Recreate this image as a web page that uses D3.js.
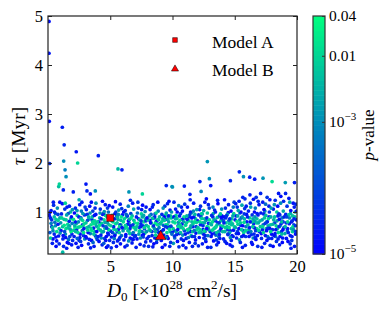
<!DOCTYPE html>
<html><head><meta charset="utf-8">
<script src="https://cdn.jsdelivr.net/npm/d3@7"></script>
<style>
html,body{margin:0;padding:0;background:#fff;}
svg text{font-family:"Liberation Serif","Times New Roman",serif;fill:#000;}
</style></head>
<body><svg id="c" width="390" height="312"></svg>
<script>
// ---- data ----
const xTicks = [5, 10, 15, 20];
const yTicks = [1, 2, 3, 4, 5];
const cbTicks = [1e-5, 1e-3, 0.01, 0.04];
const cbTickLabels = [["10", "\u22125"], ["10", "\u22123"], ["0.01", ""], ["0.04", ""]];
const modelNames = ["Model A", "Model B"];
const modelX = [5.0, 9.05];
const modelY = [0.88, 0.50];
// scatter samples: [D0, tau (Myr), log10 p-value]
const outlierPoints = [
[0.08,4.89,-4.8],[0.08,4.24,-4.7],[0.1,2.85,-4.8],[1.15,2.73,-4.6],[1.3,2.37,-4.5],[2.27,2.23,-4.7],[4.04,2.15,-4.6],[0.13,1.99,-4.5],[1.26,2.04,-3.0],[2.38,2.0,-2.0],[1.37,1.86,-3.2],[1.45,1.72,-3.0],[0.91,1.57,-2.0],[0.86,1.52,-2.3],[1.23,1.45,-4.5],[2.03,1.41,-4.6],[3.05,1.57,-4.7],[3.13,1.43,-4.4],[3.4,1.37,-4.8],[3.8,1.43,-3.0],[2.5,1.25,-2.6],[0.43,1.2,-4.6],[1.39,1.18,-2.0],[5.62,1.88,-2.4],[5.94,1.86,-4.6],[9.5,1.54,-4.5],[9.96,1.52,-3.0],[6.5,1.41,-2.9],[7.58,1.37,-2.0],[12.8,2.03,-2.9],[12.96,1.68,-3.0],[12.2,1.62,-4.6],[13.07,1.54,-4.7],[14.65,1.64,-4.5],[10.95,1.53,-4.6],[10.0,1.51,-2.8],[12.3,1.42,-3.1],[11.4,1.36,-4.6],[15.37,1.82,-4.5],[15.7,1.72,-3.0],[16.2,1.71,-4.6],[16.6,1.67,-4.7],[17.27,1.69,-2.9],[18.0,1.62,-1.9],[19.06,1.6,-2.8],[19.8,1.6,-4.6]
];
const bandLeft = [
[0.1,0.93,-4.8],[0.2,0.88,-4.6],[0.15,0.99,-4.9],[0.3,0.84,-4.3],[0.25,1.03,-4.7],[0.4,0.62,-3.1],[0.5,0.55,-4.5],[0.2,0.47,-2.2],[0.6,0.72,-2.9],[0.7,0.41,-4.8],[0.35,0.36,-4.6],[0.8,0.95,-4.2],[0.9,0.66,-2.0],[0.55,0.79,-3.4],[0.65,0.3,-4.9],[0.45,1.14,-4.4],[0.75,1.08,-3.0],[0.85,0.51,-4.7],[0.95,0.88,-2.6],[0.3,0.7,-4.1],[0.6,0.97,-3.6],[0.15,0.58,-3.8],[0.7,0.6,-1.9],[0.9,0.35,-4.4],[0.5,0.9,-2.4],[0.8,0.75,-4.6],[0.4,0.45,-4.9],[0.95,1.2,-4.8],[0.25,0.77,-3.2],[0.65,0.85,-2.1],
[1.05,0.62,-4.7],[1.1,0.88,-2.0],[1.2,0.45,-4.5],[1.3,0.73,-1.8],[1.35,1.06,-4.3],[1.4,0.55,-3.0],[1.5,0.94,-2.7],[1.55,0.38,-4.9],[1.6,0.68,-2.2],[1.7,0.81,-4.6],[1.75,0.5,-4.1],[1.8,1.0,-2.4],[1.85,0.6,-1.7],[1.9,0.33,-4.7],[1.95,0.77,-3.3],[1.15,1.17,-4.8],[1.25,0.3,-4.4],[1.45,0.84,-2.1],[1.65,0.44,-3.5],[1.72,1.12,-4.5],[1.33,0.6,-4.0],[1.58,0.75,-1.9],[1.88,0.9,-4.8],[1.02,0.78,-2.9],[1.42,0.48,-4.8],[1.62,0.97,-3.9],[1.78,0.65,-2.6],[1.92,0.55,-4.6],[1.18,0.7,-2.3],[1.5,0.26,-4.6],[1.18,0.18,-2.4],[1.96,1.05,-2.9],
[2.05,0.85,-1.8],[2.1,0.5,-4.6],[2.15,0.72,-2.5],[2.2,1.08,-4.4],[2.25,0.36,-4.8],[2.3,0.64,-4.2],[2.35,0.93,-2.2],[2.4,0.58,-1.9],[2.45,0.8,-3.1],[2.5,0.42,-4.5],[2.55,1.15,-4.7],[2.6,0.7,-1.7],[2.65,0.88,-4.0],[2.7,0.32,-4.9],[2.75,0.62,-3.4],[2.8,0.97,-2.8],[2.85,0.52,-4.3],[2.9,0.76,-2.0],[2.95,0.45,-3.0],[2.12,0.98,-4.9],[2.28,0.77,-2.7],[2.42,0.28,-4.6],[2.58,0.55,-4.8],[2.68,1.02,-3.3],[2.78,0.83,-1.9],[2.88,0.66,-4.6],[2.98,1.1,-4.2],[2.22,0.6,-2.4],[2.48,0.9,-4.5],[2.62,0.4,-4.2],[2.82,0.72,-2.3],[2.35,0.46,-3.7],[2.72,1.2,-4.6],[2.18,0.69,-1.6],
[3.05,0.78,-2.2],[3.1,0.47,-4.7],[3.15,0.95,-4.4],[3.2,0.63,-2.0],[3.25,0.35,-4.5],[3.3,0.86,-2.6],[3.35,1.12,-4.8],[3.4,0.56,-3.3],[3.45,0.74,-1.8],[3.5,0.42,-4.9],[3.55,0.9,-2.3],[3.6,1.02,-4.1],[3.65,0.67,-4.6],[3.7,0.3,-4.7],[3.75,0.82,-2.0],[3.8,0.52,-4.4],[3.85,1.18,-3.0],[3.9,0.71,-2.8],[3.95,0.44,-4.2],[3.08,1.05,-4.6],[3.22,0.58,-4.8],[3.38,0.98,-2.9],[3.52,0.62,-1.7],[3.62,0.38,-3.6],[3.72,0.93,-4.7],[3.82,0.76,-2.4],[3.92,0.6,-4.9],[3.18,0.83,-3.9],[3.42,0.27,-4.6],[3.58,0.8,-2.1],[3.78,1.08,-4.5],[3.88,0.48,-3.2],[3.28,0.7,-2.5],[3.48,1.2,-4.9],[3.68,0.55,-2.2],
[4.05,0.66,-1.9],[4.1,0.4,-4.8],[4.15,0.88,-2.4],[4.2,1.06,-4.3],[4.25,0.53,-4.6],[4.3,0.77,-2.1],[4.35,0.33,-4.5],[4.4,0.95,-4.8],[4.45,0.6,-2.7],[4.5,0.84,-1.8],[4.55,0.46,-4.2],[4.6,1.15,-4.6],[4.65,0.7,-3.2],[4.7,0.28,-4.9],[4.75,0.9,-2.2],[4.8,0.57,-4.7],[4.85,1.0,-3.4],[4.9,0.74,-2.0],[4.95,0.42,-4.4],[4.08,0.8,-4.5],[4.22,0.63,-2.3],[4.38,1.22,-4.9],[4.48,0.36,-3.8],[4.58,0.79,-2.6],[4.68,0.5,-4.9],[4.78,1.08,-4.1],[4.88,0.64,-1.7],[4.18,0.98,-3.0],[4.42,0.72,-4.3],[4.62,0.93,-2.0],[4.82,0.31,-4.6],[4.28,0.47,-3.1],[4.72,0.67,-4.0],[4.92,1.13,-4.8],[4.52,1.01,-2.9]
];
const bandMid = [
[5.05,0.72,-2.1],[5.1,0.49,-4.6],[5.15,0.93,-2.5],[5.2,1.1,-4.7],[5.25,0.38,-4.4],[5.3,0.65,-1.8],[5.35,0.86,-4.5],[5.4,0.55,-2.9],[5.45,1.0,-4.2],[5.5,0.3,-4.8],[5.55,0.78,-2.2],[5.6,0.6,-4.9],[5.65,0.95,-3.1],[5.7,0.44,-4.3],[5.75,0.7,-1.9],[5.8,1.16,-4.6],[5.85,0.83,-2.4],[5.9,0.52,-3.5],[5.95,0.68,-4.7],[5.08,0.27,-4.5],[5.22,0.8,-2.0],[5.38,0.97,-4.8],[5.48,0.63,-2.3],[5.58,0.41,-4.6],[5.68,1.04,-2.8],[5.78,0.74,-4.4],[5.88,0.9,-1.7],[5.18,0.58,-4.1],[5.42,1.21,-4.9],[5.62,0.85,-2.6],[5.82,0.35,-4.7],[5.32,0.46,-3.3],[5.72,0.58,-2.1],[5.92,1.07,-4.3],[5.52,0.92,-4.0],
[6.05,0.8,-1.9],[6.1,0.43,-4.7],[6.15,0.67,-2.6],[6.2,1.03,-4.5],[6.25,0.54,-4.9],[6.3,0.9,-2.2],[6.35,0.32,-4.3],[6.4,0.75,-4.6],[6.45,1.12,-3.2],[6.5,0.61,-1.8],[6.55,0.85,-2.9],[6.6,0.47,-4.8],[6.65,0.97,-4.1],[6.7,0.7,-2.0],[6.75,0.37,-4.6],[6.8,1.18,-4.7],[6.85,0.58,-3.4],[6.9,0.83,-2.3],[6.95,0.5,-4.4],[6.08,1.0,-4.8],[6.22,0.73,-2.1],[6.38,0.92,-4.2],[6.48,0.41,-3.0],[6.58,0.66,-4.5],[6.68,0.88,-1.7],[6.78,0.55,-4.9],[6.88,1.06,-2.7],[6.18,0.29,-4.8],[6.42,0.62,-2.4],[6.62,1.24,-4.5],[6.82,0.74,-4.3],[6.28,0.95,-3.6],[6.72,0.45,-4.0],[6.92,0.68,-2.0],[6.52,0.78,-2.5],
[7.05,0.64,-2.2],[7.1,0.9,-4.6],[7.15,0.45,-4.8],[7.2,0.77,-1.9],[7.25,1.08,-4.4],[7.3,0.55,-2.8],[7.35,0.84,-2.3],[7.4,0.34,-4.7],[7.45,0.7,-4.5],[7.5,0.96,-2.0],[7.55,0.6,-3.3],[7.6,1.14,-4.9],[7.65,0.49,-4.2],[7.7,0.8,-1.8],[7.75,0.66,-4.6],[7.8,1.01,-3.0],[7.85,0.39,-4.5],[7.9,0.73,-2.5],[7.95,0.88,-4.8],[7.08,0.28,-4.6],[7.22,1.2,-4.3],[7.38,0.62,-1.7],[7.48,0.82,-4.1],[7.58,0.52,-4.9],[7.68,0.93,-2.6],[7.78,0.57,-2.1],[7.88,1.1,-4.7],[7.18,0.98,-3.5],[7.42,0.47,-3.1],[7.62,0.72,-4.4],[7.82,0.86,-2.2],[7.32,0.69,-4.7],[7.72,0.31,-4.4],[7.92,0.6,-2.9],[7.52,1.05,-4.6],
[8.05,0.7,-2.0],[8.1,0.5,-4.5],[8.15,0.92,-2.7],[8.2,1.05,-4.8],[8.25,0.41,-4.6],[8.3,0.78,-1.8],[8.35,0.6,-4.3],[8.4,0.87,-2.3],[8.45,1.15,-4.5],[8.5,0.35,-4.9],[8.55,0.66,-2.9],[8.6,0.96,-4.2],[8.65,0.53,-2.1],[8.7,0.81,-4.7],[8.75,0.44,-3.4],[8.8,0.74,-1.9],[8.85,1.02,-3.1],[8.9,0.58,-4.8],[8.95,0.9,-2.4],[8.08,0.3,-4.4],[8.22,0.62,-2.6],[8.38,1.1,-4.6],[8.48,0.72,-4.4],[8.58,0.47,-4.7],[8.68,0.98,-2.0],[8.78,0.64,-4.1],[8.88,0.84,-2.2],[8.18,0.83,-4.9],[8.42,0.29,-4.6],[8.62,0.77,-1.7],[8.82,1.2,-4.8],[8.28,0.95,-3.6],[8.72,0.38,-4.5],[8.92,0.68,-3.2],[8.52,0.88,-4.4],
[9.05,0.76,-2.3],[9.1,0.42,-4.7],[9.15,0.95,-4.4],[9.2,0.62,-1.9],[9.25,1.08,-3.0],[9.3,0.53,-4.6],[9.35,0.83,-2.1],[9.4,0.33,-4.8],[9.45,0.7,-4.2],[9.5,0.98,-2.6],[9.55,0.58,-2.0],[9.6,1.17,-4.5],[9.65,0.46,-4.9],[9.7,0.8,-2.8],[9.75,0.65,-1.8],[9.8,1.04,-4.7],[9.85,0.38,-4.3],[9.9,0.88,-2.2],[9.95,0.55,-3.5],[9.08,0.6,-4.8],[9.22,0.86,-2.5],[9.38,1.12,-4.3],[9.48,0.48,-3.3],[9.58,0.74,-2.0],[9.68,0.92,-4.6],[9.78,0.3,-4.5],[9.88,0.71,-4.0],[9.18,0.28,-4.9],[9.42,0.93,-1.7],[9.62,0.68,-4.4],[9.82,0.6,-2.4],[9.28,0.73,-3.8],[9.72,1.22,-4.8],[9.92,1.0,-2.9],[9.52,0.85,-4.1]
];
const bandRight = [
[10.05,0.66,-2.1],[10.07,0.36,-2.8],[10.1,0.9,-4.6],[10.15,0.51,-4.4],[10.2,0.78,-1.8],[10.25,1.06,-4.7],[10.3,0.6,-2.6],[10.35,0.87,-2.2],[10.4,0.4,-4.8],[10.45,0.72,-4.3],[10.5,1.13,-3.2],[10.55,0.56,-4.9],[10.6,0.83,-1.9],[10.65,0.97,-4.1],[10.7,0.45,-4.5],[10.75,0.69,-2.4],[10.8,1.02,-4.8],[10.85,0.32,-4.6],[10.9,0.8,-2.7],[10.95,0.62,-4.2],[10.12,1.2,-4.5],[10.28,0.93,-2.0],[10.42,0.64,-4.7],[10.52,0.29,-4.4],[10.62,0.74,-2.2],[10.72,1.1,-4.6],[10.82,0.53,-3.0],[10.92,0.9,-1.8],[10.18,0.47,-3.6],[10.38,1.0,-4.9],[10.58,0.68,-1.7],[10.78,0.85,-4.4],[10.88,0.42,-4.8],[10.48,0.79,-2.9],[10.98,1.16,-4.3],
[11.05,0.73,-2.0],[11.1,0.46,-4.6],[11.15,0.92,-2.5],[11.2,1.1,-4.8],[11.25,0.58,-4.3],[11.3,0.82,-1.9],[11.35,0.38,-4.7],[11.4,0.67,-2.8],[11.45,1.0,-4.4],[11.5,0.52,-2.2],[11.55,0.88,-4.9],[11.6,0.3,-4.5],[11.65,0.76,-2.1],[11.7,1.18,-4.6],[11.75,0.62,-3.3],[11.8,0.95,-2.4],[11.85,0.43,-4.8],[11.9,0.7,-4.1],[11.95,1.05,-2.9],[11.08,0.27,-4.7],[11.22,0.64,-1.7],[11.38,0.94,-4.2],[11.48,0.72,-2.6],[11.58,0.5,-4.4],[11.68,1.02,-3.1],[11.78,0.8,-1.8],[11.88,0.57,-4.9],[11.18,0.85,-4.5],[11.42,1.25,-4.6],[11.62,0.6,-2.3],[11.82,0.36,-4.3],[11.28,0.48,-3.5],[11.72,0.9,-4.7],[11.92,0.79,-2.0],[11.52,0.98,-2.7],
[12.05,0.68,-2.3],[12.1,0.94,-4.5],[12.15,0.48,-4.8],[12.2,0.8,-1.9],[12.25,1.12,-4.3],[12.3,0.58,-2.7],[12.35,0.87,-2.1],[12.4,0.35,-4.6],[12.45,0.72,-4.4],[12.5,1.03,-2.5],[12.55,0.62,-1.8],[12.6,1.2,-4.7],[12.65,0.44,-4.2],[12.7,0.83,-2.9],[12.75,0.66,-4.8],[12.8,0.98,-2.2],[12.85,0.52,-3.4],[12.9,0.77,-4.6],[12.95,1.08,-4.1],[12.08,0.31,-4.5],[12.22,0.64,-2.0],[12.38,0.96,-3.1],[12.48,0.55,-4.7],[12.58,0.86,-2.4],[12.68,0.4,-4.9],[12.78,0.7,-1.7],[12.88,1.15,-4.5],[12.18,1.05,-4.8],[12.42,0.78,-2.2],[12.62,0.6,-3.0],[12.82,0.28,-4.6],[12.28,0.9,-4.3],[12.72,1.27,-4.9],[12.92,0.64,-2.6],[12.52,0.47,-4.5],
[13.05,0.76,-2.2],[13.1,0.5,-4.7],[13.15,0.93,-4.4],[13.2,0.63,-2.0],[13.25,1.1,-3.2],[13.3,0.41,-4.8],[13.35,0.85,-2.6],[13.4,0.57,-4.3],[13.45,1.0,-4.6],[13.5,0.7,-1.9],[13.55,0.33,-4.5],[13.6,0.89,-2.3],[13.65,1.17,-4.9],[13.7,0.6,-2.8],[13.75,0.78,-4.2],[13.8,0.46,-4.6],[13.85,0.96,-2.1],[13.9,0.67,-4.7],[13.95,1.06,-3.0],[13.08,0.28,-4.4],[13.22,0.8,-1.8],[13.38,1.04,-4.5],[13.48,0.53,-3.6],[13.58,0.74,-2.4],[13.68,0.38,-4.8],[13.78,0.92,-4.1],[13.88,0.82,-2.0],[13.18,0.55,-4.9],[13.42,0.68,-2.7],[13.62,1.24,-4.6],[13.82,0.62,-4.4],[13.28,0.97,-2.5],[13.72,0.5,-3.3],[13.92,0.88,-4.8],[13.52,0.43,-4.2],
[14.05,0.71,-2.1],[14.1,0.45,-4.6],[14.15,0.9,-4.8],[14.2,0.6,-2.5],[14.25,1.08,-4.4],[14.3,0.78,-2.0],[14.35,0.36,-4.7],[14.4,0.95,-2.9],[14.45,0.55,-4.3],[14.5,1.15,-4.6],[14.55,0.68,-1.9],[14.6,0.86,-4.5],[14.65,0.48,-3.1],[14.7,1.02,-4.9],[14.75,0.74,-2.3],[14.8,0.3,-4.4],[14.85,0.92,-2.7],[14.9,0.63,-4.8],[14.95,1.2,-4.2],[14.08,0.83,-3.8],[14.22,0.4,-4.5],[14.38,0.7,-2.2],[14.48,0.99,-4.7],[14.58,0.58,-2.6],[14.68,0.8,-1.8],[14.78,0.52,-4.6],[14.88,1.1,-3.3],[14.18,1.25,-4.8],[14.42,0.64,-4.1],[14.62,0.33,-4.9],[14.82,0.76,-2.4],[14.28,0.88,-4.4],[14.72,0.42,-4.6],[14.92,0.97,-2.0],[14.52,0.82,-3.4]
];
const bandFar = [
[15.05,0.68,-2.6],[15.1,0.92,-4.7],[15.15,0.47,-4.5],[15.2,1.1,-4.3],[15.25,0.75,-2.1],[15.3,0.56,-4.8],[15.35,1.22,-4.6],[15.4,0.84,-3.0],[15.45,0.38,-4.4],[15.5,1.0,-4.9],[15.55,0.64,-2.2],[15.6,0.9,-2.8],[15.65,1.3,-4.5],[15.7,0.52,-4.7],[15.75,0.79,-1.9],[15.8,1.07,-4.2],[15.85,0.32,-4.6],[15.9,0.7,-3.3],[15.95,0.95,-4.8],[15.08,1.17,-4.5],[15.22,0.6,-4.1],[15.38,0.43,-2.9],[15.48,0.73,-4.6],[15.58,1.14,-2.6],[15.68,0.62,-4.9],[15.78,0.86,-2.4],[15.88,0.5,-4.3],[15.18,0.81,-1.8],[15.42,0.98,-3.5],[15.62,0.28,-4.7],[15.82,1.27,-4.4],[15.28,1.03,-2.7],[15.72,0.58,-2.0],[15.92,1.12,-4.6],[15.52,0.88,-4.3],
[16.05,0.74,-2.4],[16.1,1.02,-4.6],[16.15,0.5,-4.8],[16.2,0.88,-2.0],[16.25,1.18,-4.4],[16.3,0.6,-3.2],[16.35,0.38,-4.7],[16.4,0.94,-4.3],[16.45,0.7,-2.2],[16.5,1.26,-4.8],[16.55,0.55,-4.5],[16.6,0.82,-2.7],[16.65,1.08,-3.3],[16.7,0.44,-4.9],[16.75,0.66,-1.9],[16.8,0.97,-4.6],[16.85,0.3,-4.4],[16.9,0.78,-2.5],[16.95,1.15,-4.7],[16.08,0.58,-4.3],[16.22,1.35,-4.6],[16.38,0.8,-2.1],[16.48,0.47,-3.0],[16.58,1.0,-4.9],[16.68,0.62,-4.2],[16.78,0.86,-2.3],[16.88,1.22,-4.5],[16.18,0.68,-4.6],[16.42,0.34,-4.8],[16.62,0.9,-2.9],[16.82,0.52,-4.7],[16.28,1.1,-2.6],[16.72,1.3,-4.3],[16.92,0.63,-2.0],[16.52,0.76,-4.5],
[17.05,0.7,-2.3],[17.1,0.98,-4.7],[17.15,0.46,-4.4],[17.2,0.84,-2.8],[17.25,1.2,-4.6],[17.3,0.58,-2.1],[17.35,1.05,-4.9],[17.4,0.36,-4.5],[17.45,0.77,-4.2],[17.5,0.93,-2.4],[17.55,0.62,-4.8],[17.6,1.3,-4.3],[17.65,0.5,-3.1],[17.7,0.86,-1.9],[17.75,1.12,-4.6],[17.8,0.67,-4.7],[17.85,0.32,-4.4],[17.9,0.9,-2.6],[17.95,0.55,-4.9],[17.08,1.38,-4.5],[17.22,0.64,-4.6],[17.38,0.88,-2.2],[17.48,1.16,-3.4],[17.58,0.42,-4.8],[17.68,0.72,-2.5],[17.78,1.0,-4.4],[17.88,0.6,-2.0],[17.18,0.28,-4.7],[17.42,1.02,-2.9],[17.62,0.8,-4.5],[17.82,1.25,-4.8],[17.28,0.74,-3.7],[17.72,0.46,-4.3],[17.92,1.08,-2.7],[17.52,0.66,-2.2],
[18.05,0.75,-2.5],[18.1,1.06,-4.6],[18.15,0.52,-4.8],[18.2,0.9,-2.2],[18.25,1.24,-4.4],[18.3,0.64,-4.7],[18.35,0.4,-4.3],[18.4,0.82,-2.8],[18.45,1.12,-4.9],[18.5,0.58,-2.0],[18.55,0.96,-4.5],[18.6,0.33,-4.6],[18.65,0.72,-2.4],[18.7,1.32,-4.8],[18.75,0.6,-4.2],[18.8,0.88,-3.2],[18.85,0.47,-4.7],[18.9,1.02,-2.6],[18.95,0.68,-4.4],[18.08,0.3,-4.9],[18.22,0.78,-4.1],[18.38,1.0,-2.1],[18.48,0.45,-4.6],[18.58,0.85,-4.8],[18.68,1.18,-3.0],[18.78,0.55,-2.3],[18.88,0.8,-4.5],[18.18,1.15,-2.9],[18.42,0.66,-1.9],[18.62,0.94,-4.3],[18.82,0.38,-4.9],[18.28,0.5,-3.5],[18.72,0.76,-4.6],[18.92,1.22,-4.4],[18.52,1.38,-4.7],
[19.05,0.7,-2.4],[19.1,0.95,-4.6],[19.15,0.46,-4.8],[19.2,1.12,-4.3],[19.25,0.8,-2.0],[19.3,0.58,-4.5],[19.35,1.28,-4.7],[19.4,0.88,-3.0],[19.45,0.35,-4.4],[19.5,1.03,-4.9],[19.55,0.66,-2.6],[19.6,0.5,-4.6],[19.65,0.92,-2.2],[19.7,1.18,-4.8],[19.75,0.74,-4.2],[19.8,0.3,-4.7],[19.85,1.0,-2.8],[19.9,0.6,-4.4],[19.95,0.84,-4.9],[19.08,1.38,-4.5],[19.22,0.62,-3.3],[19.38,0.76,-4.6],[19.48,0.97,-2.5],[19.58,0.42,-4.3],[19.68,0.7,-1.9],[19.78,1.1,-4.6],[19.88,0.55,-4.8],[19.18,0.9,-4.1],[19.42,1.2,-2.7],[19.62,0.82,-4.4],[19.82,0.9,-2.3],[19.28,0.4,-4.9],[19.72,0.64,-2.9],[19.92,1.16,-4.5],[19.52,0.26,-4.6]
];
const bandCore = [
[0.37,0.68,-2.4],[0.52,1.0,-4.6],[0.63,0.49,-4.8],[0.81,0.83,-2.0],[0.97,0.57,-3.1],[1.08,0.96,-4.5],[1.22,0.52,-4.9],[1.29,0.85,-2.2],[1.44,0.66,-1.8],[1.53,1.1,-4.7],[1.67,0.36,-4.6],[1.74,0.72,-2.7],[1.83,0.86,-1.9],[1.98,0.42,-4.4],[2.07,0.63,-2.1],[2.19,0.8,-4.7],[2.33,1.03,-2.9],[2.44,0.69,-2.0],[2.56,0.48,-4.6],[2.63,0.86,-2.3],[2.77,0.74,-4.8],[2.86,0.58,-1.8],[2.93,0.94,-4.3],[3.03,0.5,-4.9],[3.12,0.68,-2.1],[3.26,0.9,-2.5],[3.33,0.44,-4.6],[3.47,0.66,-2.0],[3.54,0.84,-4.4],[3.67,0.76,-1.9],[3.76,0.6,-2.6],[3.84,0.95,-4.8],[3.97,0.8,-2.2],[4.03,0.5,-4.5],[4.13,0.73,-1.8],[4.27,0.86,-4.6],[4.33,0.59,-2.3],[4.46,0.97,-4.4],[4.57,0.67,-2.0],[4.64,0.42,-4.8],[4.77,0.78,-2.7],[4.86,0.54,-4.3],[4.97,0.86,-1.9],
[5.03,0.61,-4.7],[5.13,0.82,-2.2],[5.27,0.7,-4.5],[5.36,0.52,-4.8],[5.44,0.76,-1.8],[5.57,0.9,-2.4],[5.66,0.65,-4.6],[5.77,0.48,-4.4],[5.86,0.74,-2.1],[5.97,0.94,-4.7],[6.03,0.62,-2.8],[6.13,0.86,-2.0],[6.24,0.5,-4.5],[6.33,0.68,-1.9],[6.46,0.82,-4.9],[6.57,0.56,-2.3],[6.63,0.72,-4.6],[6.76,0.92,-2.5],[6.84,0.44,-4.8],[6.97,0.78,-1.8],[7.03,0.52,-4.4],[7.13,0.7,-2.2],[7.27,0.86,-4.7],[7.34,0.6,-2.0],[7.46,0.76,-4.5],[7.57,0.9,-2.6],[7.66,0.54,-4.9],[7.74,0.68,-2.1],[7.87,0.82,-4.3],[7.96,0.46,-4.6],[8.03,0.84,-2.3],[8.13,0.64,-1.9],[8.24,0.78,-4.8],[8.36,0.52,-4.5],[8.44,0.7,-2.0],[8.57,0.9,-4.6],[8.64,0.6,-2.5],[8.77,0.84,-1.8],[8.86,0.48,-4.7],[8.97,0.76,-4.4],[9.03,0.56,-2.2],[9.13,0.8,-2.0],[9.27,0.64,-4.6],[9.33,0.9,-4.9],[9.46,0.74,-1.9],[9.57,0.5,-4.5],[9.64,0.86,-2.4],[9.77,0.7,-4.7],[9.84,0.92,-2.1],[9.97,0.58,-4.4],
[10.03,0.8,-2.0],[10.14,0.62,-4.8],[10.23,0.86,-2.6],[10.33,0.54,-4.5],[10.46,0.7,-1.8],[10.57,0.92,-4.6],[10.64,0.58,-2.3],[10.77,0.76,-4.9],[10.86,0.66,-2.0],[10.96,0.88,-4.4],[11.03,0.55,-4.7],[11.13,0.78,-2.1],[11.24,0.64,-1.9],[11.33,0.9,-4.5],[11.46,0.6,-4.8],[11.56,0.8,-2.4],[11.64,0.7,-4.6],[11.77,0.5,-4.4],[11.86,0.86,-2.2],[11.97,0.64,-1.8],[12.03,0.82,-4.7],[12.13,0.58,-2.3],[12.24,0.74,-4.5],[12.33,0.96,-2.0],[12.46,0.64,-4.9],[12.57,0.78,-2.6],[12.64,0.52,-4.6],[12.76,0.88,-4.4],[12.87,0.68,-2.1],[12.97,0.84,-1.9],[13.03,0.6,-4.8],[13.13,0.74,-2.5],[13.24,0.9,-4.6],[13.33,0.66,-2.0],[13.46,0.82,-4.3],[13.56,0.58,-2.2],[13.64,0.78,-4.7],[13.76,0.54,-4.5],[13.87,0.72,-1.8],[13.97,0.92,-4.9],[14.03,0.6,-2.4],[14.13,0.78,-4.6],[14.24,0.68,-2.0],[14.33,0.92,-4.4],[14.46,0.54,-4.8],[14.57,0.76,-2.3],[14.64,0.62,-4.5],[14.76,0.86,-2.1],[14.87,0.5,-4.7],[14.97,0.7,-1.9],
[15.03,0.84,-4.6],[15.13,0.56,-4.4],[15.24,0.92,-2.5],[15.33,0.66,-4.8],[15.46,0.78,-2.2],[15.56,0.5,-4.5],[15.64,0.72,-4.9],[15.76,0.96,-4.3],[15.87,0.62,-2.0],[15.97,0.8,-4.6],[16.03,0.9,-4.5],[16.13,0.64,-2.3],[16.24,0.8,-4.7],[16.33,0.54,-4.4],[16.46,0.86,-2.6],[16.56,0.68,-4.8],[16.64,0.48,-4.5],[16.76,0.78,-2.1],[16.87,0.94,-4.6],[16.97,0.6,-4.3],[17.03,0.82,-2.4],[17.13,0.56,-4.9],[17.24,0.7,-2.0],[17.33,0.96,-4.5],[17.46,0.52,-4.7],[17.56,0.8,-2.6],[17.64,0.66,-4.4],[17.76,0.9,-4.8],[17.87,0.74,-2.2],[17.97,0.46,-4.6],[18.03,0.64,-4.3],[18.13,0.84,-2.5],[18.24,0.56,-4.8],[18.33,0.72,-2.1],[18.46,0.92,-4.6],[18.56,0.7,-4.4],[18.64,0.5,-4.7],[18.76,0.8,-2.4],[18.87,0.64,-4.9],[18.97,0.9,-4.5],[19.03,0.56,-2.6],[19.13,0.78,-4.4],[19.24,0.66,-4.7],[19.33,0.94,-2.2],[19.46,0.52,-4.6],[19.56,0.8,-4.8],[19.64,0.6,-2.0],[19.76,0.86,-4.5],[19.87,0.72,-4.3],[19.97,1.02,-4.7]
];

// ---- layout ----
const svg = d3.select("#c");
const L = 48, R = 297, T = 16, B = 254;
const x = d3.scaleLinear([0, 20], [L, R]);
const y = d3.scaleLinear([0.143, 5], [B, T]);
const pMin = 1e-5, pMax = 0.04;
const cScale = d3.scaleLinear([Math.log10(pMin), Math.log10(pMax)], [0, 1]).clamp(true);
const winter = t => d3.rgb(0, Math.round(255 * t), Math.round(255 - 127.5 * t)).toString();
const colorOf = lp => winter(cScale(lp));

svg.append("defs").append("clipPath").attr("id", "clip")
  .append("rect").attr("x", L).attr("y", T).attr("width", R - L).attr("height", B - T);

const allPts = [].concat(bandLeft, bandMid, bandRight, bandFar, bandCore, outlierPoints);
// interleave draw order so colours mix like the original
const order = allPts.map((d, i) => [(i * 7919) % allPts.length, d]).sort((a, b) => a[0] - b[0]).map(a => a[1]);

svg.append("g").attr("clip-path", "url(#clip)")
  .selectAll("circle").data(order).join("circle")
  .attr("cx", d => x(d[0])).attr("cy", d => y(d[1])).attr("r", 1.85)
  .attr("fill", d => colorOf(d[2]));

// models
const mg = svg.append("g");
mg.append("path").attr("d", d3.symbol(d3.symbolSquare, 50)())
  .attr("transform", `translate(${x(modelX[0])},${y(modelY[0])})`)
  .attr("fill", "#ff0000").attr("stroke", "#000").attr("stroke-width", 0.5);
mg.append("path").attr("d", d3.symbol(d3.symbolTriangle, 48)())
  .attr("transform", `translate(${x(modelX[1])},${y(modelY[1])})`)
  .attr("fill", "#ff0000").attr("stroke", "#000").attr("stroke-width", 0.5);

// axes
const axC = "#222";
function styleAxis(g) {
  g.attr("font-family", null);
  g.select(".domain").remove();
  g.selectAll(".tick line").attr("stroke", axC).attr("stroke-width", 1);
  g.selectAll(".tick text").attr("font-size", 16.5).attr("fill", "#000");
}
svg.append("g").attr("transform", `translate(0,${B})`)
  .call(d3.axisBottom(x).tickValues(xTicks).tickSize(-4).tickPadding(6).tickFormat(d3.format("d"))).call(styleAxis);
svg.append("g").attr("transform", `translate(0,${T})`)
  .call(d3.axisTop(x).tickValues(xTicks).tickSize(-4).tickFormat("")).call(styleAxis);
svg.append("g").attr("transform", `translate(${L},0)`)
  .call(d3.axisLeft(y).tickValues(yTicks).tickSize(-4).tickPadding(5).tickFormat(d3.format("d"))).call(styleAxis);
svg.append("g").attr("transform", `translate(${R},0)`)
  .call(d3.axisRight(y).tickValues(yTicks).tickSize(-4).tickFormat("")).call(styleAxis);

svg.append("rect").attr("x", L).attr("y", T).attr("width", R - L).attr("height", B - T)
  .attr("fill", "none").attr("stroke", axC).attr("stroke-width", 1.2);

// axis labels
const xl = svg.append("text").attr("x", 172).attr("y", 297).attr("text-anchor", "middle").attr("font-size", 19.5);
xl.append("tspan").attr("font-style", "italic").text("D");
xl.append("tspan").attr("font-size", 13).attr("dy", 4).text("0");
xl.append("tspan").attr("dy", -4).text(" [\u00d710");
xl.append("tspan").attr("font-size", 13).attr("dy", -8).text("28");
xl.append("tspan").attr("dy", 8).text(" cm");
xl.append("tspan").attr("font-size", 13).attr("dy", -8).text("2");
xl.append("tspan").attr("dy", 8).text("/s]");

const yl = svg.append("text").attr("transform", "translate(25,136) rotate(-90)").attr("text-anchor", "middle").attr("font-size", 19.5);
yl.append("tspan").attr("font-style", "italic").text("\u03c4");
yl.append("tspan").text(" [Myr]");

// legend
const lg = svg.append("g");
lg.append("path").attr("d", d3.symbol(d3.symbolSquare, 22)()).attr("transform", "translate(175,40)")
  .attr("fill", "#ff0000").attr("stroke", "#000").attr("stroke-width", 0.5);
lg.append("path").attr("d", d3.symbol(d3.symbolTriangle, 22)()).attr("transform", "translate(175,69)")
  .attr("fill", "#ff0000").attr("stroke", "#000").attr("stroke-width", 0.5);
lg.selectAll("text.lt").data(modelNames).join("text").attr("class", "lt")
  .attr("x", 212).attr("y", (d, i) => 48 + i * 28).attr("font-size", 17.5).text(d => d);

// colorbar
const cbL = 313, cbR = 325;
const cy = d3.scaleLog([pMin, pMax], [B, T]);
const nBands = 48;
const bandEdges = d3.range(nBands + 1).map(i => Math.log10(pMin) + i * (Math.log10(pMax) - Math.log10(pMin)) / nBands);
svg.append("g").selectAll("rect").data(d3.range(nBands)).join("rect")
  .attr("x", cbL).attr("width", cbR - cbL)
  .attr("y", i => cy(Math.pow(10, bandEdges[i + 1])))
  .attr("height", i => cy(Math.pow(10, bandEdges[i])) - cy(Math.pow(10, bandEdges[i + 1])) + 0.5)
  .attr("fill", i => colorOf((bandEdges[i] + bandEdges[i + 1]) / 2));
svg.append("rect").attr("x", cbL).attr("y", T).attr("width", cbR - cbL).attr("height", B - T)
  .attr("fill", "none").attr("stroke", "#333").attr("stroke-width", 1.2);
const cbAx = svg.append("g").attr("transform", `translate(${cbR},0)`)
  .call(d3.axisRight(cy).tickValues(cbTicks).tickSize(-3).tickPadding(4).tickFormat(""));
cbAx.attr("font-family", null);
cbAx.select(".domain").remove();
cbAx.selectAll(".tick line").attr("stroke", "#333");
cbAx.selectAll(".tick text").each(function (d) {
  const t = d3.select(this).attr("font-size", 15.5).attr("fill", "#000");
  const lab = cbTickLabels[cbTicks.indexOf(d)];
  t.append("tspan").text(lab[0]);
  if (lab[1]) t.append("tspan").attr("font-size", 11).attr("dy", -7).text(lab[1]);
});
const pl = svg.append("text").attr("transform", "translate(374,135) rotate(-90)").attr("text-anchor", "middle").attr("font-size", 17);
pl.append("tspan").attr("font-style", "italic").text("p");
pl.append("tspan").text("-value");
</script></body></html>
